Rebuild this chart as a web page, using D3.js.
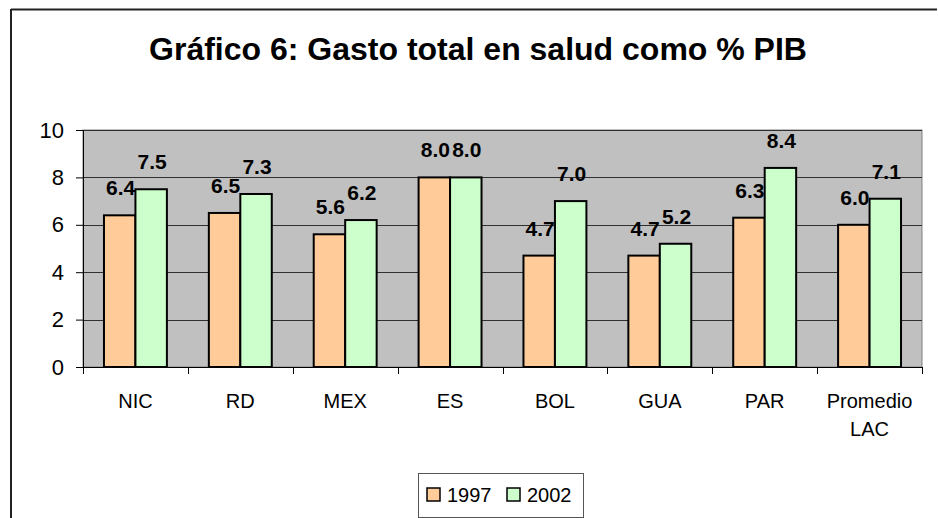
<!DOCTYPE html>
<html>
<head>
<meta charset="utf-8">
<script src="https://cdn.jsdelivr.net/npm/d3@7"></script>
<style>
  html, body { margin: 0; padding: 0; background: #fff; }
  svg { display: block; font-family: "Liberation Sans", Arial, sans-serif; }
</style>
</head>
<body>
<svg id="chart" width="938" height="518"></svg>
<script>
const categories = ["NIC", "RD", "MEX", "ES", "BOL", "GUA", "PAR", "Promedio LAC"];
const series1997 = [6.4, 6.5, 5.6, 8.0, 4.7, 4.7, 6.3, 6.0];
const series2002 = [7.5, 7.3, 6.2, 8.0, 7.0, 5.2, 8.4, 7.1];
const seriesNames = ["1997", "2002"];
const yTicks = [0, 2, 4, 6, 8, 10];
const titleText = "Gráfico 6: Gasto total en salud como % PIB";

const colors = ["#FFCC99", "#CCFFCC"];
const svg = d3.select("#chart");

// outer frame (partial, as cropped)
svg.append("line").attr("x1", 11).attr("x2", 937).attr("y1", 9.5).attr("y2", 9.5)
  .attr("stroke", "#222").attr("stroke-width", 2);
svg.append("line").attr("x1", 11).attr("x2", 11).attr("y1", 9).attr("y2", 518)
  .attr("stroke", "#222").attr("stroke-width", 2);

// title
svg.append("text").attr("x", 478).attr("y", 60).attr("text-anchor", "middle")
  .attr("font-size", 32).attr("font-weight", "bold").attr("fill", "#000")
  .text(titleText);

const plot = { left: 83, right: 922, top: 130, bottom: 367 };
const x = d3.scaleBand().domain(categories).range([plot.left, plot.right]).paddingInner(0).paddingOuter(0);
const y = d3.scaleLinear().domain([0, 10]).range([plot.bottom, plot.top]);
const bw = x.bandwidth();
const barW = bw * 0.3;
const x1 = d3.scaleBand().domain(seriesNames).range([bw * 0.2, bw * 0.8]);

// plot background
svg.append("rect").attr("x", plot.left).attr("y", plot.top)
  .attr("width", plot.right - plot.left).attr("height", plot.bottom - plot.top)
  .attr("fill", "#C0C0C0").attr("stroke", "#808080").attr("stroke-width", 1);

// gridlines
svg.append("g").selectAll("line").data(yTicks.filter(d => d > 0)).join("line")
  .attr("x1", plot.left).attr("x2", plot.right)
  .attr("y1", d => Math.round(y(d)) + 0.5).attr("y2", d => Math.round(y(d)) + 0.5)
  .attr("stroke", "#303030").attr("stroke-width", 1);

// y axis
const yAxis = svg.append("g").attr("transform", `translate(${plot.left},0)`)
  .call(d3.axisLeft(y).tickValues(yTicks).tickSize(7).tickPadding(12).tickFormat(d3.format("d")));
yAxis.select(".domain").attr("stroke", "#000");
yAxis.selectAll(".tick line").attr("stroke", "#000");
yAxis.selectAll("text").attr("font-size", 22).attr("fill", "#000")
  .attr("font-family", "'Liberation Sans', Arial, sans-serif");

// x axis with ticks at category boundaries
const xg = svg.append("g");
xg.append("line").attr("x1", plot.left).attr("x2", plot.right)
  .attr("y1", plot.bottom + 0.5).attr("y2", plot.bottom + 0.5).attr("stroke", "#000");
const bounds = categories.map(c => x(c)).concat([x(categories[categories.length - 1]) + bw]);
xg.selectAll("line.tk").data(bounds).join("line").attr("class", "tk")
  .attr("x1", d => Math.round(d) + 0.5).attr("x2", d => Math.round(d) + 0.5)
  .attr("y1", plot.bottom).attr("y2", plot.bottom + 7).attr("stroke", "#000");
xg.selectAll("text").data(categories).join("text")
  .attr("x", d => x(d) + bw / 2).attr("y", 408)
  .attr("text-anchor", "middle").attr("font-size", 20).attr("fill", "#000")
  .each(function(d) {
    const parts = d.split(" ");
    d3.select(this).selectAll("tspan").data(parts).join("tspan")
      .attr("x", x(d) + bw / 2).attr("dy", (p, i) => i === 0 ? 0 : 28).text(p => p);
  });

// bars
const data = categories.map((c, i) => ({ c, vals: [series1997[i], series2002[i]] }));
const groups = svg.append("g").selectAll("g").data(data).join("g")
  .attr("transform", d => `translate(${x(d.c)},0)`);
groups.selectAll("rect").data(d => d.vals.map((v, j) => ({ v, j }))).join("rect")
  .attr("x", d => x1(seriesNames[d.j]))
  .attr("y", d => y(d.v))
  .attr("width", barW)
  .attr("height", d => y(0) - y(d.v))
  .attr("fill", d => colors[d.j])
  .attr("stroke", "#000").attr("stroke-width", 2);
groups.selectAll("text").data(d => d.vals.map((v, j) => ({ v, j }))).join("text")
  .attr("x", d => x1(seriesNames[d.j]) + barW / 2 + 1)
  .attr("y", d => y(d.v) - 20)
  .attr("text-anchor", "middle").attr("font-size", 21).attr("font-weight", "bold")
  .attr("fill", "#000")
  .text(d => d3.format(".1f")(d.v));

// legend
const lg = svg.append("g");
lg.append("rect").attr("x", 418.5).attr("y", 473.5).attr("width", 165).attr("height", 44)
  .attr("fill", "#fff").attr("stroke", "#555").attr("stroke-width", 1);
const legX = [427, 507];
seriesNames.forEach((s, i) => {
  lg.append("rect").attr("x", legX[i]).attr("y", 488).attr("width", 13).attr("height", 13)
    .attr("fill", colors[i]).attr("stroke", "#000").attr("stroke-width", 1.5);
  lg.append("text").attr("x", legX[i] + 20).attr("y", 502).attr("font-size", 20)
    .attr("fill", "#000").text(s);
});
</script>
</body>
</html>
